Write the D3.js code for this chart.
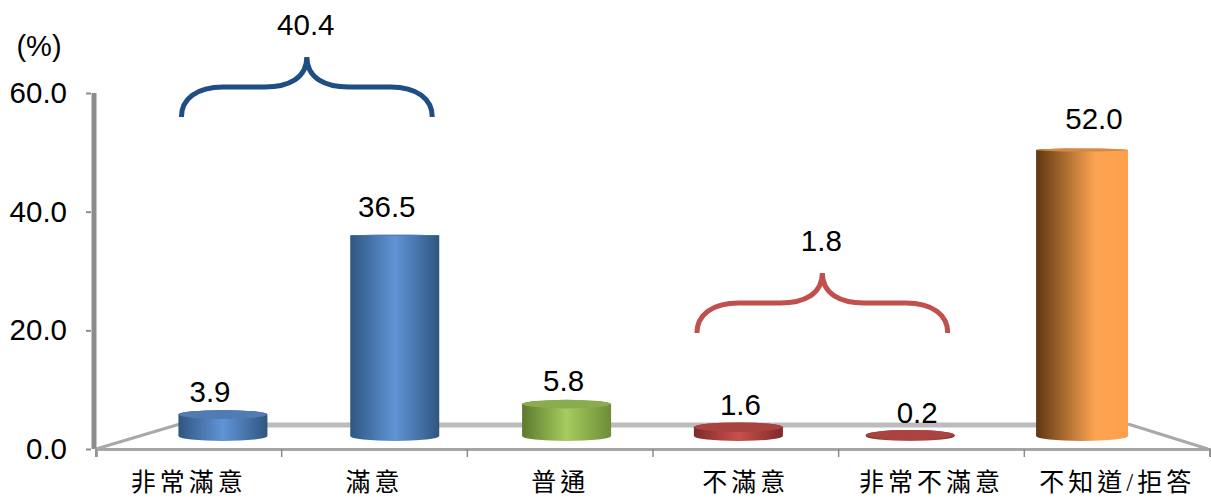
<!DOCTYPE html>
<html>
<head>
<meta charset="utf-8">
<script src="https://cdn.jsdelivr.net/npm/d3@7"></script>
<style>
html, body { margin: 0; padding: 0; background: #fff; }
text { font-family: "Liberation Sans", Arial, sans-serif; fill: #000; }
text.cat { font-family: "Liberation Serif", "Noto Sans CJK TC", serif; font-size: 25px; letter-spacing: 4px; }
</style>
</head>
<body>
<script>
var categories = ["非常滿意", "滿意", "普通", "不滿意", "非常不滿意", "不知道/拒答"]
var values = [3.9, 36.5, 5.8, 1.6, 0.2, 52.0]
var tickValues = [0, 20, 40, 60]
var barGroups = ["blue", "blue", "green", "red", "red", "orange"]
var braceLabels = ["40.4", "1.8"]

var width = 1211, height = 498

var svg = d3.select("body").append("svg").attr("width", width).attr("height", height)
var defs = svg.append("defs")

var palette = {
  blue: ["#2f5680", "#6094d6", "#2f5680"],
  green: ["#5d7a2e", "#a6cc5e", "#6d8c38"],
  red: ["#7e2b29", "#c9504c", "#7e2b29"],
  orange: ["#5e3712", "#fda552", "#fd9f4c"]
}
for (var name in palette) {
  var grad = defs.append("linearGradient").attr("id", "grad-" + name)
  grad.append("stop").attr("offset", "0%").attr("stop-color", palette[name][0])
  grad.append("stop").attr("offset", name == "orange" ? "65%" : "50%").attr("stop-color", palette[name][1])
  grad.append("stop").attr("offset", "100%").attr("stop-color", palette[name][2])
}

// axis front edge and value ticks
var yAxis = d3.scaleLinear().domain([0, 60]).range([449, 93])
// the bars sit further back on the floor so they get their own scales
var yBar = d3.scaleLinear().domain([0, 60]).range([436, 106])
var yLabel = d3.scaleLinear().domain([0, 60]).range([424, 84])
var xAxis = d3.scaleBand().domain(categories).range([96, 1210])
var xBar = d3.scaleBand().domain(categories).range([137, 1168])
var xLabel = d3.scaleBand().domain(categories).range([121.6, 1182.4])

function barCenter(i) { return xBar(categories[i]) + xBar.bandwidth() / 2 }
function barWidth(i) { return i == 5 ? 92 : 89 }
// tops flatten out near eye level, around 40 on the value axis
function topRy(d) { return Math.abs(d - 40) * 0.125 }

var gray = "#a6a6a6"

// floor
svg.append("line").attr("x1", 180).attr("x2", 1128).attr("y1", 425).attr("y2", 425)
  .attr("stroke", "#bcbcbc").attr("stroke-width", 5)
svg.append("path")
  .attr("d", "M96,449 L180,424 M1128,424 L1208,449")
  .attr("fill", "none").attr("stroke", "#a9a9a9").attr("stroke-width", 3)

svg.append("line").attr("x1", 94).attr("x2", 94).attr("y1", yAxis(60)).attr("y2", yAxis(0))
  .attr("stroke", "#8c8c8c").attr("stroke-width", 5)

var gy = svg.append("g").attr("transform", "translate(91,0)")
  .call(d3.axisLeft(yAxis).tickValues(tickValues).tickSize(5).tickPadding(19).tickFormat(d3.format(".1f")))
gy.select(".domain").remove()
gy.selectAll("line").attr("stroke", "#8c8c8c").attr("stroke-width", 2)
gy.selectAll("text").style("font-size", "29.5px").attr("fill", "#000")

var gx = svg.append("g").attr("transform", "translate(0,449)")
  .call(d3.axisBottom(xAxis).tickSize(8).tickPadding(16))
gx.select(".domain").attr("stroke", gray).attr("stroke-width", 3)
gx.selectAll("line").attr("stroke", "#8c8c8c").attr("stroke-width", 1.5)
  .attr("transform", "translate(" + (-xAxis.bandwidth() / 2) + ",0)")
gx.selectAll("text").attr("class", "cat").attr("fill", "#000").attr("dx", 0)
svg.append("line").attr("x1", 1210).attr("x2", 1210).attr("y1", 449).attr("y2", 457).attr("stroke", "#8c8c8c").attr("stroke-width", 1.5)

// cylinders
var ry = 5
var bars = svg.selectAll("g.bar").data(values).enter().append("g").attr("class", "bar")
bars.append("path")
  .attr("d", function(d, i) {
    var cx = barCenter(i), rx = barWidth(i) / 2
    var top = yBar(d), bottom = yBar(0), tr = topRy(d)
    return "M" + (cx - rx) + "," + top +
      " L" + (cx - rx) + "," + bottom +
      " A" + rx + "," + ry + " 0 0 0 " + (cx + rx) + "," + bottom +
      " L" + (cx + rx) + "," + top +
      " A" + rx + "," + tr + " 0 0 0 " + (cx - rx) + "," + top + "Z"
  })
  .attr("fill", function(d, i) { return "url(#grad-" + barGroups[i] + ")" })
bars.append("ellipse")
  .attr("cx", function(d, i) { return barCenter(i) })
  .attr("cy", function(d) { return yBar(d) })
  .attr("rx", function(d, i) { return barWidth(i) / 2 - 0.5 })
  .attr("ry", function(d) { return topRy(d) })
  .attr("fill", function(d, i) { return d3.color(palette[barGroups[i]][1]).darker(0.5) })
bars.append("text")
  .attr("x", function(d, i) { return xLabel(categories[i]) + xLabel.bandwidth() / 2 })
  .attr("y", function(d) { return yLabel(d) })
  .attr("text-anchor", "middle").style("font-size", "29.5px")
  .text(function(d) { return d.toFixed(1) })

// braces over grouped categories
function brace(x0, x1, yBottom) {
  var mid = (x0 + x1) / 2, yFlat = yBottom - 30, yTip = yBottom - 60
  return "M" + x0 + "," + yBottom +
    " C" + x0 + "," + (yFlat + 12) + " " + (x0 + 15) + "," + yFlat + " " + (x0 + 42) + "," + yFlat +
    " L" + (mid - 42) + "," + yFlat +
    " C" + (mid - 18) + "," + yFlat + " " + mid + "," + (yFlat - 9) + " " + mid + "," + yTip +
    " C" + mid + "," + (yFlat - 9) + " " + (mid + 18) + "," + yFlat + " " + (mid + 42) + "," + yFlat +
    " L" + (x1 - 42) + "," + yFlat +
    " C" + (x1 - 15) + "," + yFlat + " " + x1 + "," + (yFlat + 12) + " " + x1 + "," + yBottom
}
var braces = [
  { from: 0, to: 1, y: 117, color: "#1f4e84", label: braceLabels[0] },
  { from: 3, to: 4, y: 333, color: "#c0504d", label: braceLabels[1] }
]
braces.forEach(function(b) {
  var x0 = barCenter(b.from) - barWidth(b.from) / 2 + 3
  var x1 = barCenter(b.to) + barWidth(b.to) / 2 - 7
  svg.append("path").attr("d", brace(x0, x1, b.y))
    .attr("fill", "none").attr("stroke", b.color).attr("stroke-width", 5)
  svg.append("text").attr("x", (x0 + x1) / 2 - 1).attr("y", b.y - 82)
    .attr("text-anchor", "middle").style("font-size", "29.5px").text(b.label)
})

svg.append("text").attr("x", 39).attr("y", 56).attr("text-anchor", "middle").style("font-size", "29px").text("(%)")
</script>
</body>
</html>
